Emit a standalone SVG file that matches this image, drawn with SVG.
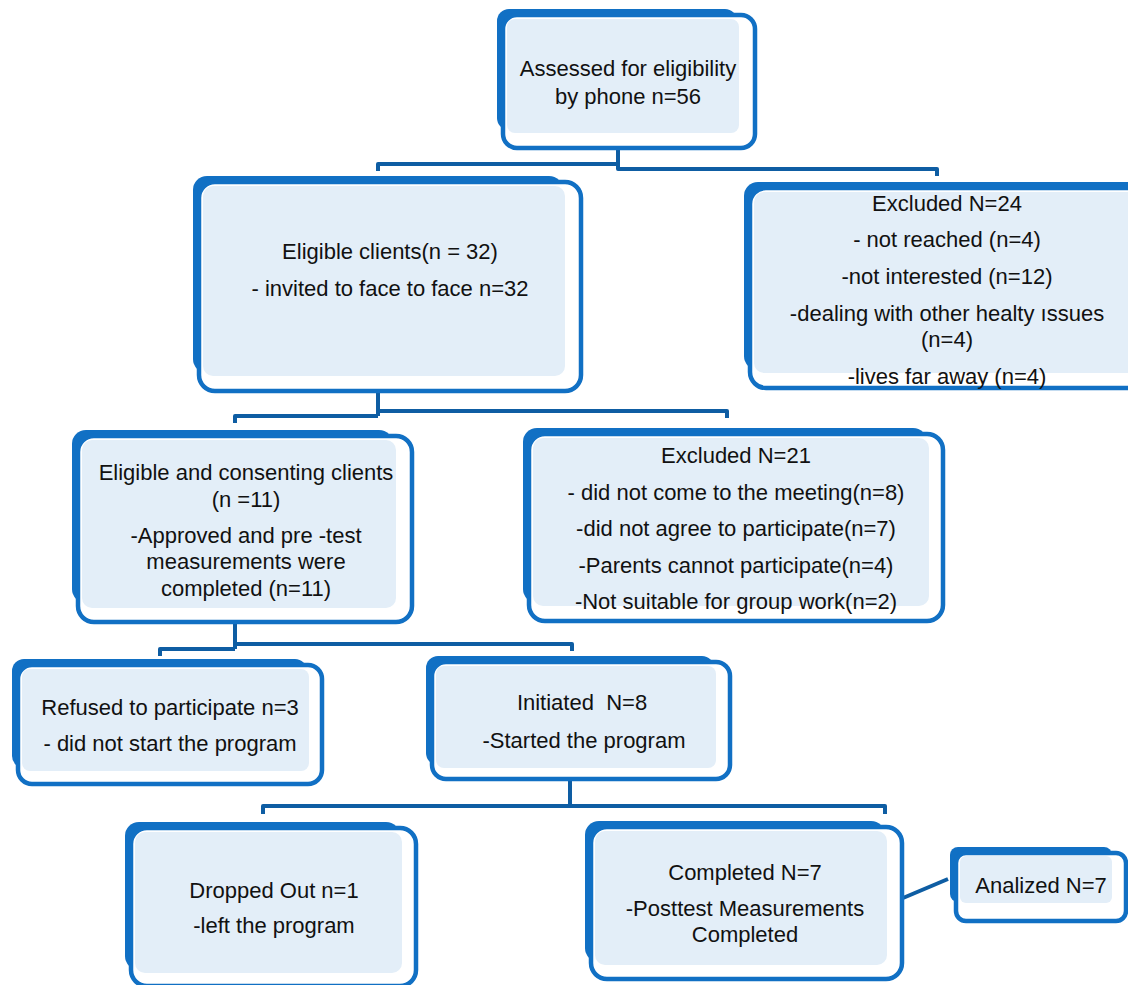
<svg xmlns="http://www.w3.org/2000/svg" width="1128" height="985" viewBox="0 0 1128 985">
<defs>
<style>
.bk{fill:#1170C4}
.ol{fill:#ffffff;stroke:#1170C4;stroke-width:4.5}
.lt{fill:#E3EEF8}
.t{font-family:"Liberation Sans",Arial,sans-serif;font-size:22px;fill:#111;text-anchor:middle}
.c{fill:none;stroke:#0E5DA3;stroke-width:4;stroke-linejoin:round}
</style>
</defs>
<rect width="1128" height="985" fill="#ffffff"/>
<g id="connectors">
<path class="c" d="M618,148 V166"/>
<path class="c" d="M618,164 H378 V171"/>
<path class="c" d="M618,164 V169 H937 V176"/>
<path class="c" d="M378,392 V416"/>
<path class="c" d="M378,416 H235 V423"/>
<path class="c" d="M378,411 H727 V418"/>
<path class="c" d="M235,623 V649"/>
<path class="c" d="M235,649 H160 V656"/>
<path class="c" d="M235,644 H572 V651"/>
<path class="c" d="M570,781 V806"/>
<path class="c" d="M263,814 V806 H885 V814"/>
<path class="c" d="M903,898 L948,879"/>
</g>
<g id="n1">
<rect class="bk" x="497" y="9" width="240" height="121" rx="12"/>
<rect class="ol" x="503" y="15" width="252" height="133" rx="14"/>
<rect class="lt" x="507" y="19" width="232" height="114" rx="8"/>
<text class="t" x="628" y="76">Assessed for eligibility</text>
<text class="t" x="628" y="104">by phone n=56</text>
</g>
<g id="n2">
<rect class="bk" x="193" y="176" width="370" height="197" rx="14"/>
<rect class="ol" x="199" y="182" width="382" height="209" rx="16"/>
<rect class="lt" x="203" y="186" width="362" height="190" rx="10"/>
<text class="t" x="390" y="259">Eligible clients(n = 32)</text>
<text class="t" x="390" y="296">- invited to face to face n=32</text>
</g>
<g id="n3">
<rect class="bk" x="744" y="182" width="400" height="188" rx="14"/>
<rect class="ol" x="750" y="188" width="412" height="200" rx="16"/>
<rect class="lt" x="754" y="192" width="392" height="181" rx="10"/>
<text class="t" x="947" y="211">Excluded N=24</text>
<text class="t" x="947" y="247">- not reached (n=4)</text>
<text class="t" x="947" y="284">-not interested (n=12)</text>
<text class="t" x="947" y="321">-dealing with other healty ıssues</text>
<text class="t" x="947" y="347">(n=4)</text>
<text class="t" x="947" y="384">-lives far away (n=4)</text>
</g>
<g id="n4">
<rect class="bk" x="72" y="430" width="321" height="173" rx="14"/>
<rect class="ol" x="78" y="436" width="334" height="186" rx="16"/>
<rect class="lt" x="82" y="440" width="314" height="168" rx="10"/>
<text class="t" x="246" y="480">Eligible and consenting clients</text>
<text class="t" x="246" y="507">(n =11)</text>
<text class="t" x="246" y="543">-Approved and pre -test</text>
<text class="t" x="246" y="569">measurements were</text>
<text class="t" x="246" y="596">completed (n=11)</text>
</g>
<g id="n5">
<rect class="bk" x="523" y="428" width="404" height="175" rx="14"/>
<rect class="ol" x="529" y="434" width="414" height="187" rx="16"/>
<rect class="lt" x="533" y="438" width="396" height="168" rx="10"/>
<text class="t" x="736" y="463">Excluded N=21</text>
<text class="t" x="736" y="500">- did not come to the meeting(n=8)</text>
<text class="t" x="736" y="536">-did not agree to participate(n=7)</text>
<text class="t" x="736" y="573">-Parents cannot participate(n=4)</text>
<text class="t" x="736" y="609">-Not suitable for group work(n=2)</text>
</g>
<g id="n6">
<rect class="bk" x="12" y="659" width="295" height="109" rx="12"/>
<rect class="ol" x="18" y="665" width="304" height="119" rx="14"/>
<rect class="lt" x="22" y="669" width="287" height="102" rx="8"/>
<text class="t" x="170" y="715">Refused to participate n=3</text>
<text class="t" x="170" y="751">- did not start the program</text>
</g>
<g id="n7">
<rect class="bk" x="426" y="656" width="288" height="109" rx="12"/>
<rect class="ol" x="432" y="662" width="298" height="117" rx="14"/>
<rect class="lt" x="436" y="666" width="280" height="102" rx="8"/>
<text class="t" x="582" y="710" xml:space="preserve">Initiated  N=8</text>
<text class="t" x="584" y="748">-Started the program</text>
</g>
<g id="n8">
<rect class="bk" x="125" y="822" width="275" height="148" rx="14"/>
<rect class="ol" x="131" y="828" width="285" height="158" rx="16"/>
<rect class="lt" x="135" y="832" width="267" height="141" rx="10"/>
<text class="t" x="274" y="898">Dropped Out n=1</text>
<text class="t" x="274" y="933">-left the program</text>
</g>
<g id="n9">
<rect class="bk" x="585" y="821" width="300" height="141" rx="14"/>
<rect class="ol" x="591" y="827" width="311" height="152" rx="16"/>
<rect class="lt" x="595" y="831" width="292" height="134" rx="10"/>
<text class="t" x="745" y="880">Completed N=7</text>
<text class="t" x="745" y="916">-Posttest Measurements</text>
<text class="t" x="745" y="942">Completed</text>
</g>
<g id="n10">
<rect class="bk" x="950" y="847" width="162" height="55" rx="8"/>
<rect class="ol" x="956" y="853" width="170" height="68" rx="10"/>
<rect class="lt" x="960" y="856" width="152" height="47" rx="6"/>
<text class="t" x="1041" y="893">Analized N=7</text>
</g>
</svg>
